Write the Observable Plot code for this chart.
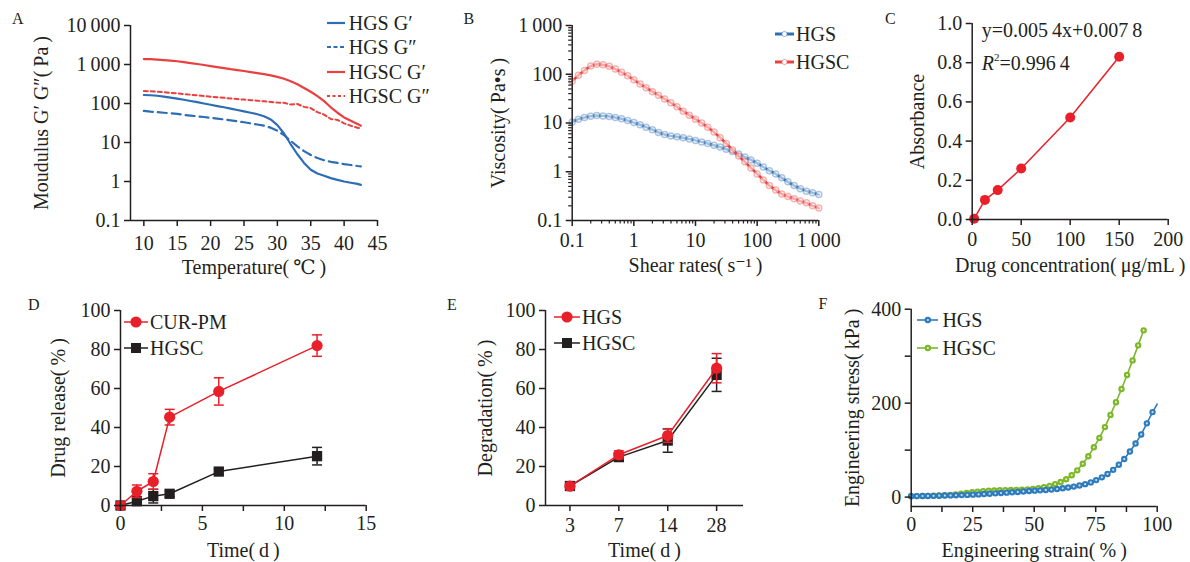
<!DOCTYPE html>
<html><head><meta charset="utf-8">
<script src="https://cdn.jsdelivr.net/npm/d3@7"></script>
<script src="https://cdn.jsdelivr.net/npm/@observablehq/plot@0.6"></script>
<style>
body{margin:0;background:#fff;}
#root{position:relative;width:1190px;height:562px;overflow:hidden;font-family:"Liberation Serif","DejaVu Serif",serif;color:#231f20;}
.panel{position:absolute;}
.lg{position:absolute;height:24px;font-size:20px;line-height:24px;white-space:nowrap;display:flex;align-items:center;}
.lg svg{display:block;}
.letter{position:absolute;font-size:16px;line-height:18px;}
.ann{position:absolute;font-size:20px;line-height:24px;white-space:nowrap;}
</style></head><body><div id="root"></div>
<script>
// ---------- Panel A : moduli vs temperature ----------
const aTemp = [10,11,12,13,14,15,16,17,18,19,20,21,22,23,24,25,26,27,28,29,30,31,32,33,34,35,36,37,38,39,40,41,42,42.5];
const aHgsG1 = [165,163,158,150,142,134,125,116,108,100,93,86,80,74,68,63,58,53,47,39,28,17,9,5,3,2,1.6,1.4,1.22,1.1,1.0,0.93,0.87,0.82];
const aHgsG2 = [65,62,60,58,56,54,51,49,47,45,43,41,39,37,35,33,31,29,27,24,20,15.5,11,8,6,4.8,4,3.5,3.2,3,2.8,2.65,2.5,2.45];
const aHgscG1 = [1380,1370,1340,1300,1260,1210,1150,1090,1030,970,910,860,810,760,720,680,640,600,565,525,480,430,370,310,250,200,155,115,80,58,44,36,30,27];
const aHgscG2 = [210,205,200,195,188,182,175,168,162,156,150,145,140,135,130,126,122,118,114,110,106,104,94,97,82,76,60,52,40,38,31,27,24,23];
const aXTicks = [10,15,20,25,30,35,40,45];
const aYTicks = [0.1,1,10,100,1000,10000];

// ---------- Panel B : viscosity vs shear rate ----------
const bRate = [0.1,0.126,0.158,0.2,0.251,0.316,0.398,0.501,0.631,0.794,1,1.26,1.58,2,2.51,3.16,3.98,5.01,6.31,7.94,10,12.6,15.8,20,25.1,31.6,39.8,50.1,63.1,79.4,100,126,158,200,251,316,398,501,631,794,1000];
const bHGS = [10.5,12,13,13.8,14.2,14,13.6,13,12.2,11.2,10.2,9.2,8.2,7.3,6.4,5.8,5.4,5.2,5,4.7,4.4,4.1,3.8,3.5,3.2,2.9,2.6,2.3,2,1.75,1.5,1.25,1.05,0.9,0.75,0.62,0.52,0.45,0.4,0.37,0.34];
const bHGSC = [72,95,120,148,160,157,146,128,110,93,77,63,53,44,37,31,26,21.5,17.5,14.5,12,10,8.2,6.5,5,3.8,2.8,2.1,1.6,1.2,0.9,0.68,0.52,0.42,0.35,0.31,0.28,0.25,0.23,0.2,0.18];
const bTicks = [0.1,1,10,100,1000];

// ---------- Panel C : calibration curve ----------
const cConc = [2,13,26,50,100,150];
const cAbs = [0.004,0.1,0.15,0.26,0.52,0.83];
const cXTicks = [0,50,100,150,200];
const cYTicks = [0,0.2,0.4,0.6,0.8,1.0];

// ---------- Panel D : drug release ----------
const dTime = [0,1,2,3,6,12];
const dCur = [0,7.3,12.3,45.3,58.5,82];
const dCurErr = [0,3.2,4,4,7,5.5];
const dHgsc = [0,2.2,4.8,6,17.4,25.3];
const dHgscErr = [0,1.5,3.5,1.5,1.5,4.5];
const dXTicks = [0,2.5,5,7.5,10,12.5,15];
const dYTicks = [0,20,40,60,80,100];

// ---------- Panel E : degradation ----------
const eDays = ["3","7","14","28"];
const eHGS = [9.9,26,35.9,70.4];
const eHGSErr = [1,2,3.5,7.5];
const eHGSC = [10,24.8,33.3,67];
const eHGSCErr = [1,1.5,6,8.5];
const eYTicks = [0,20,40,60,80,100];

// ---------- Panel F : stress-strain ----------
const fHgsStrain = [0,2.3,4.6,6.8,9.1,11.4,13.7,16,18.2,20.5,22.8,25.1,27.4,29.6,31.9,34.2,36.5,38.8,41,43.3,45.6,47.9,50.2,52.4,54.7,57,59.3,61.6,63.8,66.1,68.4,70.7,73,75.2,77.5,79.8,82.1,84.4,86.6,88.9,91.2,93.5,95.8,98.1,100];
const fHgsStress = [2,2.1,2.3,2.5,2.7,3,3.3,3.6,4,4.3,4.7,5.2,5.8,6.5,7.2,8,8.7,9.5,10.2,11,12,13,13.7,14.4,15.2,16,17.3,18.8,20.4,22.4,24.8,27.6,31.3,36.2,42,49.3,58,69,81,97,114,133.4,157,181,198];
const fHgscStrain = [0,2.25,4.5,6.75,9,11.25,13.5,15.75,18,20.25,22.5,24.75,27,29.25,31.5,33.75,36,38.25,40.5,42.75,45,47.25,49.5,51.75,54,56.25,58.5,60.75,63,65.25,67.5,69.75,72,74.25,76.5,78.75,81,83.25,85.5,87.75,90,92.25,94.5];
const fHgscStress = [2,2.1,2.3,2.6,2.9,3.3,3.8,4.5,5.5,7,8.7,10.3,11.6,12.6,13.4,14,14.5,14.8,15.1,15.4,15.7,16.4,17.6,19.1,21.2,24,27.7,32,38,46.5,57,71,87,106,126,149,175,202,230,260,291,323,355];
const fXTicks = [0,12.5,25,37.5,50,62.5,75,87.5,100];
const fYTicks = [0,100,200,300,400];

// ---------- styling ----------
const INK = "#231f20";
const FONT = "\"Liberation Serif\", \"DejaVu Serif\", serif";
const BLUE = "#2d6db5", RED = "#e8403e", CRED = "#e8202a";
const FBLUE = "#2e7bbd", FGREEN = "#7db72a";
const style = {fontFamily: FONT, fontSize: "20px", color: INK, background: "transparent", overflow: "visible"};
const root = document.getElementById("root");
function place(node, left, top, w) {
  const d = document.createElement("div");
  d.className = "panel"; d.style.left = left + "px"; d.style.top = top + "px"; d.style.width = w + "px";
  d.appendChild(node); root.appendChild(d);
}
const grp = d => d >= 1000 ? d.toLocaleString("en-US").replace(/,/g, "\u2009") : String(d);
const cap = {draw(ctx, size) { const w = Math.sqrt(size / Math.PI); ctx.moveTo(-w, 0); ctx.lineTo(w, 0); }};
const axisLine = {stroke: INK, strokeWidth: 1.5};
const T = "\u2009";
const xTitle = (t, dy) => Plot.text([t], {text: d => d, frameAnchor: "bottom", textAnchor: "middle", lineAnchor: "middle", dy, fontSize: 20, fill: INK, fontFamily: FONT});
const yTitle = (t, dx) => Plot.text([t], {text: d => d, frameAnchor: "left", textAnchor: "middle", lineAnchor: "middle", rotate: -90, dx, fontSize: 20, fill: INK, fontFamily: FONT});

// ---------- A ----------
const rowsA = vals => aTemp.map((t, i) => ({t, v: vals[i]}));
place(Plot.plot({
  width: 400, height: 285, marginLeft: 130, marginRight: 23, marginTop: 25, marginBottom: 65, style,
  x: {domain: [8, 45]}, y: {type: "log", domain: [0.1, 10000]},
  marks: [
    Plot.line(rowsA(aHgscG2), {x: "t", y: "v", stroke: RED, strokeWidth: 2, strokeDasharray: "4,3"}),
    Plot.line(rowsA(aHgsG2), {x: "t", y: "v", stroke: BLUE, strokeWidth: 2.2, strokeDasharray: "9,5"}),
    Plot.line(rowsA(aHgscG1), {x: "t", y: "v", stroke: RED, strokeWidth: 2.2}),
    Plot.line(rowsA(aHgsG1), {x: "t", y: "v", stroke: BLUE, strokeWidth: 2.2}),
    Plot.ruleX([8], axisLine), Plot.ruleY([0.1], axisLine),
    Plot.axisX({ticks: aXTicks, tickSize: 6, tickPadding: 9, strokeWidth: 1.5, label: null}),
    Plot.axisY({ticks: aYTicks, tickSize: 6, tickPadding: 4, strokeWidth: 1.5, tickFormat: grp, label: null}),
    xTitle(`Temperature(${T}℃${T})`, 47),
    yTitle(`Moudulus G′ G″(${T}Pa${T})`, -89)
  ]
}), 0, 0, 400);

// ---------- B ----------
const rowsB = vals => bRate.map((r, i) => ({r, v: vals[i]}));
const bMinor = d3.scaleLog().domain([0.1, 1000]).ticks().filter(t => !bTicks.some(m => Math.abs(m - t) < 1e-9));
place(Plot.plot({
  width: 420, height: 285, marginLeft: 171.7, marginRight: 1.7, marginTop: 25, marginBottom: 65, style,
  x: {type: "log", domain: [0.1, 1000]}, y: {type: "log", domain: [0.1, 1000]},
  marks: [
    Plot.line(rowsB(bHGS), {x: "r", y: "v", stroke: BLUE, strokeWidth: 2.5}),
    Plot.dot(rowsB(bHGS), {x: "r", y: "v", r: 3, stroke: BLUE, strokeOpacity: 0.4, fill: "white", fillOpacity: 0.55}),
    Plot.line(rowsB(bHGSC), {x: "r", y: "v", stroke: RED, strokeWidth: 2.5}),
    Plot.dot(rowsB(bHGSC), {x: "r", y: "v", r: 3, stroke: RED, strokeOpacity: 0.4, fill: "white", fillOpacity: 0.55}),
    Plot.ruleX([0.1], axisLine), Plot.ruleY([0.1], axisLine),
    Plot.axisX({ticks: bTicks, tickSize: 6, tickPadding: 6, strokeWidth: 1.5, tickFormat: grp, label: null}),
    Plot.axisX({ticks: bMinor, tickSize: 3.5, strokeWidth: 1.2, tickFormat: () => "", label: null}),
    Plot.axisY({ticks: bTicks, tickSize: 6, tickPadding: 4, strokeWidth: 1.5, tickFormat: grp, label: null}),
    Plot.axisY({ticks: bMinor, tickSize: 3.5, strokeWidth: 1.2, tickFormat: () => "", label: null}),
    xTitle(`Shear rates(${T}s⁻¹${T})`, 45),
    yTitle(`Viscosity(${T}Pa•s${T})`, -74)
  ]
}), 400, 0, 420);

// ---------- C ----------
const rowsC = cConc.map((c, i) => ({c, a: cAbs[i]}));
place(Plot.plot({
  width: 370, height: 285, marginLeft: 151.7, marginRight: 22.3, marginTop: 23, marginBottom: 66, style,
  x: {domain: [0, 200]}, y: {domain: [0, 1]},
  marks: [
    Plot.line(rowsC, {x: "c", y: "a", stroke: CRED, strokeWidth: 1.5}),
    Plot.dot(rowsC, {x: "c", y: "a", r: 5, fill: CRED}),
    Plot.ruleX([0], axisLine), Plot.ruleY([0], axisLine),
    Plot.axisX({ticks: cXTicks, tickSize: 6, tickPadding: 6, strokeWidth: 1.5, label: null}),
    Plot.axisY({ticks: cYTicks, tickSize: 6, tickPadding: 4, strokeWidth: 1.5, tickFormat: d3.format(".1f"), label: null}),
    xTitle(`Drug concentration(${T}μg/mL${T})`, 46),
    yTitle("Absorbance", -55)
  ]
}), 820, 0, 370);

// ---------- D ----------
const rowsD = (vals, errs) => dTime.map((t, i) => ({t, v: vals[i], e: errs[i]}));
const errMarks = (rows, x, color, r) => {
  const f = rows.filter(d => d.e > 0);
  return [
    Plot.ruleX(f, {x, y1: d => d.v - d.e, y2: d => d.v + d.e, stroke: color, strokeWidth: 1.5}),
    Plot.dot(f, {x, y: d => d.v + d.e, symbol: cap, r, stroke: color, strokeWidth: 1.5}),
    Plot.dot(f, {x, y: d => d.v - d.e, symbol: cap, r, stroke: color, strokeWidth: 1.5})
  ];
};
const dC = rowsD(dCur, dCurErr), dH = rowsD(dHgsc, dHgscErr);
place(Plot.plot({
  width: 400, height: 277, marginLeft: 120, marginRight: 34.3, marginTop: 25, marginBottom: 57, style,
  x: {domain: [0, 15]}, y: {domain: [0, 100]},
  marks: [
    ...errMarks(dH, "t", INK, 5),
    Plot.line(dH, {x: "t", y: "v", stroke: INK, strokeWidth: 1.5}),
    Plot.dot(dH, {x: "t", y: "v", symbol: "square", r: 5.8, fill: INK}),
    ...errMarks(dC, "t", CRED, 5),
    Plot.line(dC, {x: "t", y: "v", stroke: CRED, strokeWidth: 1.5}),
    Plot.dot(dC, {x: "t", y: "v", r: 5.6, fill: CRED}),
    Plot.ruleX([0], axisLine), Plot.ruleY([0], axisLine),
    Plot.axisX({ticks: dXTicks, tickSize: 6, tickPadding: 4.5, strokeWidth: 1.5, tickFormat: d => d % 5 === 0 ? d : "", label: null}),
    Plot.axisY({ticks: dYTicks, tickSize: 6, tickPadding: 4, strokeWidth: 1.5, label: null}),
    xTitle(`Time(${T}d${T})`, 45),
    yTitle(`Drug release(${T}%${T})`, -62)
  ]
}), 0, 285, 400);

// ---------- E ----------
const rowsE = (vals, errs) => eDays.map((day, i) => ({i, day, v: vals[i], e: errs[i]}));
const eS = rowsE(eHGS, eHGSErr), eC = rowsE(eHGSC, eHGSCErr);
place(Plot.plot({
  width: 420, height: 277, marginLeft: 145, marginRight: 77, marginTop: 25, marginBottom: 57, style,
  x: {domain: [-0.5, 3.55]}, y: {domain: [0, 100]},
  marks: [
    ...errMarks(eC, "i", INK, 5),
    Plot.line(eC, {x: "i", y: "v", stroke: INK, strokeWidth: 1.5}),
    Plot.dot(eC, {x: "i", y: "v", symbol: "square", r: 5.8, fill: INK}),
    ...errMarks(eS, "i", CRED, 5),
    Plot.line(eS, {x: "i", y: "v", stroke: CRED, strokeWidth: 1.5}),
    Plot.dot(eS, {x: "i", y: "v", r: 5.6, fill: CRED}),
    Plot.ruleX([-0.5], axisLine), Plot.ruleY([0], axisLine),
    Plot.axisX({ticks: eDays.map((d, i) => i), tickSize: 6, tickPadding: 6, strokeWidth: 1.5, tickFormat: i => eDays[i], label: null}),
    Plot.axisY({ticks: eYTicks, tickSize: 6, tickPadding: 4, strokeWidth: 1.5, label: null}),
    xTitle(`Time(${T}d${T})`, 45),
    yTitle(`Degradation(${T}%${T})`, -60)
  ]
}), 400, 285, 420);

// ---------- F ----------
const fS = fHgsStrain.map((s, i) => ({s, v: fHgsStress[i]}));
const fC = fHgscStrain.map((s, i) => ({s, v: fHgscStress[i]}));
const fSDots = fS.filter(d => d.s < 99);
place(Plot.plot({
  width: 370, height: 277, marginLeft: 90.7, marginRight: 33.3, marginTop: 23.7, marginBottom: 56, style,
  x: {domain: [0, 100]}, y: {domain: [-20, 400]},
  marks: [
    Plot.line(fC, {x: "s", y: "v", stroke: FGREEN, strokeWidth: 1.6}),
    Plot.dot(fC, {x: "s", y: "v", r: 3.2, fill: FGREEN}),
    Plot.dot(fC, {x: "s", y: "v", r: 1.1, fill: "white", fillOpacity: 0.75}),
    Plot.line(fS, {x: "s", y: "v", stroke: FBLUE, strokeWidth: 1.6}),
    Plot.dot(fSDots, {x: "s", y: "v", r: 3.2, fill: FBLUE}),
    Plot.dot(fSDots, {x: "s", y: "v", r: 1.1, fill: "white", fillOpacity: 0.75}),
    Plot.ruleX([0], axisLine), Plot.ruleY([-20], axisLine),
    Plot.axisX({ticks: fXTicks, tickSize: 6, tickPadding: 4.5, strokeWidth: 1.5, tickFormat: d => d % 25 === 0 ? d : "", label: null}),
    Plot.axisY({ticks: fYTicks, tickSize: 6, tickPadding: 4, strokeWidth: 1.5, tickFormat: d => d % 200 === 0 ? d : "", label: null}),
    xTitle(`Engineering strain(${T}%${T})`, 44),
    yTitle(`Engineering stress(${T}kPa${T})`, -59)
  ]
}), 820, 285, 370);

// ---------- legends, letters, annotation (HTML) ----------
function legendRow(x, yc, lineLen, gap, sw, label) {
  const div = document.createElement("div");
  div.className = "lg"; div.style.left = x + "px"; div.style.top = (yc - 12) + "px";
  const ns = "http://www.w3.org/2000/svg";
  const svg = document.createElementNS(ns, "svg");
  svg.setAttribute("width", lineLen); svg.setAttribute("height", 24);
  const ln = document.createElementNS(ns, "line");
  ln.setAttribute("x1", 0); ln.setAttribute("x2", lineLen); ln.setAttribute("y1", 12); ln.setAttribute("y2", 12);
  ln.setAttribute("stroke", sw.color); ln.setAttribute("stroke-width", sw.width || 2);
  if (sw.dash) ln.setAttribute("stroke-dasharray", sw.dash);
  svg.appendChild(ln);
  const cx = lineLen / 2;
  if (sw.marker === "circle" || sw.marker === "hollow" || sw.marker === "fdot") {
    const c = document.createElementNS(ns, "circle");
    c.setAttribute("cx", cx); c.setAttribute("cy", 12); c.setAttribute("r", sw.r);
    if (sw.marker === "hollow") { c.setAttribute("fill", "white"); c.setAttribute("stroke", sw.color); c.setAttribute("stroke-opacity", 0.5); }
    else c.setAttribute("fill", sw.color);
    svg.appendChild(c);
    if (sw.marker === "fdot") {
      const c2 = document.createElementNS(ns, "circle");
      c2.setAttribute("cx", cx); c2.setAttribute("cy", 12); c2.setAttribute("r", 1.1);
      c2.setAttribute("fill", "white"); c2.setAttribute("fill-opacity", 0.75); svg.appendChild(c2);
    }
  } else if (sw.marker === "square") {
    const r = document.createElementNS(ns, "rect");
    r.setAttribute("x", cx - sw.r); r.setAttribute("y", 12 - sw.r); r.setAttribute("width", 2 * sw.r); r.setAttribute("height", 2 * sw.r);
    r.setAttribute("fill", sw.color); svg.appendChild(r);
  }
  div.appendChild(svg);
  const sp = document.createElement("span"); sp.style.marginLeft = gap + "px"; sp.textContent = label;
  div.appendChild(sp);
  root.appendChild(div);
}
const aLegend = [["HGS G′", {color: BLUE, width: 2.2}], ["HGS G″", {color: BLUE, width: 2.2, dash: "4,2.5"}], ["HGSC G′", {color: RED, width: 2.2}], ["HGSC G″", {color: RED, width: 2, dash: "3,2.5"}]];
const aLegendY = [23.3, 46.7, 71.7, 96];
aLegend.forEach(([l, s], i) => legendRow(326.7, aLegendY[i], 18, 4, s, l));
legendRow(775, 34, 19, 2, {color: BLUE, width: 3, marker: "hollow", r: 2.6}, "HGS");
legendRow(775, 62, 19, 2, {color: RED, width: 3, marker: "hollow", r: 2.6}, "HGSC");
legendRow(124, 321.7, 24, 2, {color: CRED, width: 1.5, marker: "circle", r: 5.6}, "CUR-PM");
legendRow(124, 347.7, 24, 2, {color: INK, width: 1.5, marker: "square", r: 5}, "HGSC");
legendRow(554, 317.3, 26, 2, {color: CRED, width: 1.5, marker: "circle", r: 5.6}, "HGS");
legendRow(554, 342.7, 26, 2, {color: INK, width: 1.5, marker: "square", r: 5}, "HGSC");
legendRow(916.7, 320, 21.7, 4, {color: FBLUE, width: 1.6, marker: "fdot", r: 3.2}, "HGS");
legendRow(916.7, 348.3, 21.7, 4, {color: FGREEN, width: 1.6, marker: "fdot", r: 3.2}, "HGSC");

const letters = [["A", 12, 9.5], ["B", 463.5, 9.5], ["C", 885, 9.5], ["D", 28, 295.5], ["E", 447, 295.5], ["F", 818.5, 294.5]];
letters.forEach(([t, x, y]) => { const d = document.createElement("div"); d.className = "letter"; d.style.left = x + "px"; d.style.top = y + "px"; d.textContent = t; root.appendChild(d); });

const ann1 = document.createElement("div"); ann1.className = "ann"; ann1.style.left = "981.7px"; ann1.style.top = "18px";
ann1.textContent = "y=0.005\u20094x+0.007\u20098"; root.appendChild(ann1);
const ann2 = document.createElement("div"); ann2.className = "ann"; ann2.style.left = "981.7px"; ann2.style.top = "45px";
ann2.innerHTML = "<i>R</i><sup style='font-size:11px;vertical-align:9px'>2</sup>=0.996\u20094"; root.appendChild(ann2);
</script></body></html>
